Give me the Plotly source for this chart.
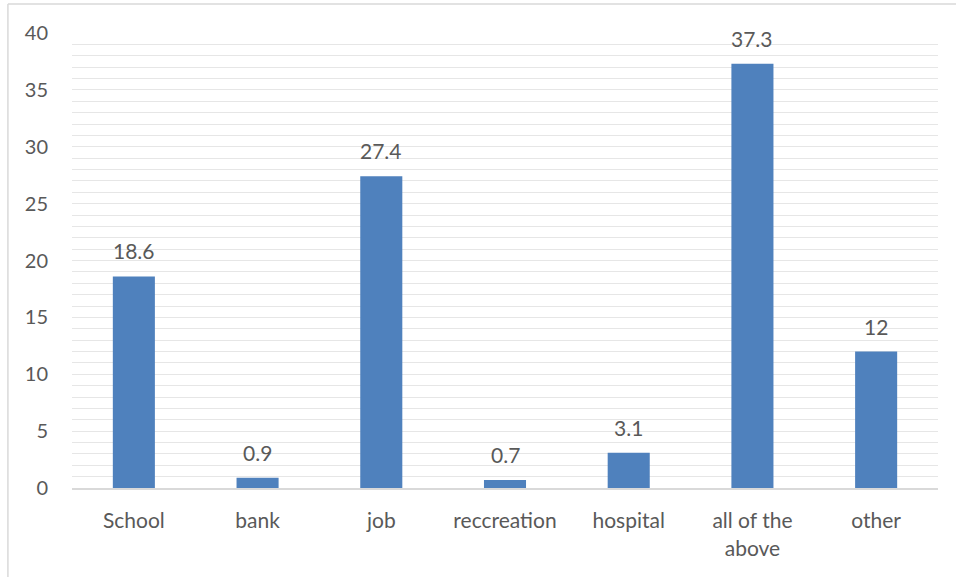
import plotly.graph_objects as go

categories = ["School", "bank", "job", "reccreation", "hospital", "all of the above", "other"]
tick_labels = ["School", "bank", "job", "reccreation", "hospital", "all of the<br>above", "other"]
values = [18.6, 0.9, 27.4, 0.7, 3.1, 37.3, 12]
y_ticks = [0, 5, 10, 15, 20, 25, 30, 35, 40]

BAR = "#4F81BD"
TEXT = "#595959"
GRID = "#E6E6E6"
FONT = "Lato, Open Sans, sans-serif"

fig = go.Figure()
fig.add_trace(go.Bar(
    x=categories, y=values, marker=dict(color=BAR, line=dict(width=0)),
    hoverinfo="x+y",
))

# value labels above each bar
for c, v in zip(categories, values):
    fig.add_annotation(x=c, y=v, text=f"{v:g}", showarrow=False,
                       yanchor="bottom", yshift=11,
                       font=dict(family=FONT, size=21, color=TEXT))

# chart frame (left and top edges)
frame_x = -0.074
frame_y = 1.064
fig.add_shape(type="line", xref="paper", yref="paper", x0=frame_x, x1=frame_x,
              y0=-0.3, y1=frame_y, line=dict(color="#D9D9D9", width=1.5))
fig.add_shape(type="line", xref="paper", yref="paper", x0=frame_x, x1=1.1,
              y0=frame_y, y1=frame_y, line=dict(color="#D9D9D9", width=1.5))

fig.update_layout(
    width=956, height=577,
    margin=dict(l=72, r=18, t=33, b=89),
    paper_bgcolor="white", plot_bgcolor="white",
    bargap=0.66, showlegend=False,
    font=dict(family=FONT, size=21, color=TEXT),
    xaxis=dict(
        tickmode="array", tickvals=categories, ticktext=tick_labels,
        showline=True, linecolor="#D9D9D9", linewidth=2,
        showgrid=False, ticks="", ticklabelstandoff=13,
        tickfont=dict(family=FONT, size=21, color=TEXT),
    ),
    yaxis=dict(
        range=[0, 40], tickmode="array", tickvals=y_ticks,
        ticktext=[str(t) for t in y_ticks],
        showgrid=True, gridcolor=GRID, gridwidth=1,
        minor=dict(dtick=1, showgrid=True, gridcolor=GRID, gridwidth=1),
        zeroline=False, showline=False, ticks="", ticklabelstandoff=23,
        tickfont=dict(family=FONT, size=20, color=TEXT),
    ),
)

fig.write_html("out.html")
